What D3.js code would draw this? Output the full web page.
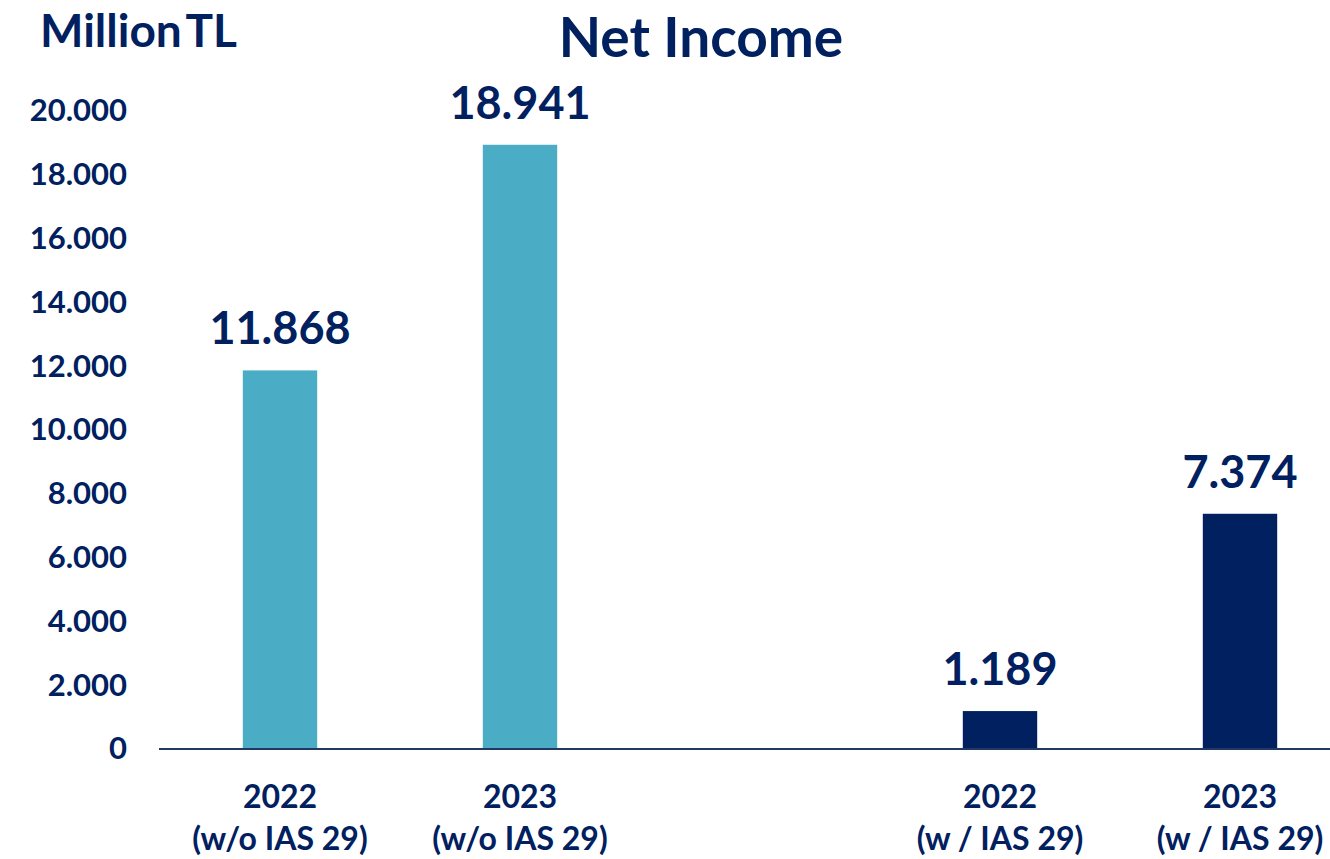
<!DOCTYPE html>
<html>
<head>
<meta charset="utf-8">
<title>Net Income</title>
<script src="https://cdn.jsdelivr.net/npm/d3@7/dist/d3.min.js"></script>
<style>
  * { margin: 0; padding: 0; }
  body { background: #fff; }
  text { font-family: Lato, "Open Sans", sans-serif; font-weight: bold; fill: #002060; }
</style>
</head>
<body>
<div id="show"></div>
<script>
// data
var categories = ["2022|(w/o IAS 29)", "2023|(w/o IAS 29)", "", "2022|(w / IAS 29)", "2023|(w / IAS 29)"];
var values = [11868, 18941, null, 1189, 7374];
var barColors = ["#4BACC6", "#4BACC6", null, "#002060", "#002060"];
var yTicks = [0, 2000, 4000, 6000, 8000, 10000, 12000, 14000, 16000, 18000, 20000];

var W = 1330, H = 859;
var fmt = function(v){ return d3.format(",")(v).replace(/,/g, "."); };

var svg = d3.select("#show").append("svg")
  .attr("width", W).attr("height", H);

var x = d3.scaleBand()
  .domain(d3.range(categories.length))
  .range([160, 1360])
  .paddingInner(0.69).paddingOuter(0.345);

var y = d3.scaleLinear().domain([0, 20000]).range([749, 111]);

// y axis labels
var yAxis = d3.axisLeft(y).tickValues(yTicks).tickFormat(fmt).tickSize(0).tickPadding(0);
var gy = svg.append("g").attr("transform", "translate(127,0)").call(yAxis);
gy.select(".domain").remove();
gy.selectAll("text").style("font-size", "31px").attr("fill", "#002060")
  .style("font-family", "Lato, sans-serif").style("font-weight", "bold");

// bars
var rows = values.map(function(v, i){ return {i: i, v: v, c: barColors[i], cat: categories[i]}; });
svg.selectAll("rect.bar").data(rows.filter(function(d){ return d.v != null; }))
  .enter().append("rect").attr("class", "bar")
  .attr("x", function(d){ return x(d.i); })
  .attr("width", x.bandwidth())
  .attr("y", function(d){ return y(d.v); })
  .attr("height", function(d){ return y(0) - y(d.v); })
  .attr("fill", function(d){ return d.c; });

// baseline
svg.append("line")
  .attr("x1", 159).attr("x2", W)
  .attr("y1", y(0)).attr("y2", y(0))
  .attr("stroke", "#1F3864").attr("stroke-width", 2);

// value labels
svg.selectAll("text.val").data(rows.filter(function(d){ return d.v != null; }))
  .enter().append("text").attr("class", "val")
  .attr("x", function(d){ return x(d.i) + x.bandwidth() / 2; })
  .attr("y", function(d){ return y(d.v) - 26; })
  .attr("text-anchor", "middle")
  .style("font-size", "45px")
  .text(function(d){ return fmt(d.v); });

// category labels
var cat = svg.selectAll("text.cat").data(rows.filter(function(d){ return d.cat; }))
  .enter().append("text").attr("class", "cat")
  .attr("text-anchor", "middle")
  .style("font-size", "32px");
cat.each(function(d){
  var t = d3.select(this), parts = d.cat.split("|");
  var cx = x(d.i) + x.bandwidth() / 2;
  t.append("tspan").attr("x", cx).attr("y", 808).text(parts[0]);
  t.append("tspan").attr("x", cx).attr("y", 850).text(parts[1]);
});

// titles
svg.append("text").attr("x", 701).attr("y", 57).attr("text-anchor", "middle")
  .style("font-size", "55px").text("Net Income");
svg.append("text").attr("x", 40).attr("y", 47)
  .style("font-size", "46px").style("word-spacing", "-6px").text("Million TL");
</script>
</body>
</html>
